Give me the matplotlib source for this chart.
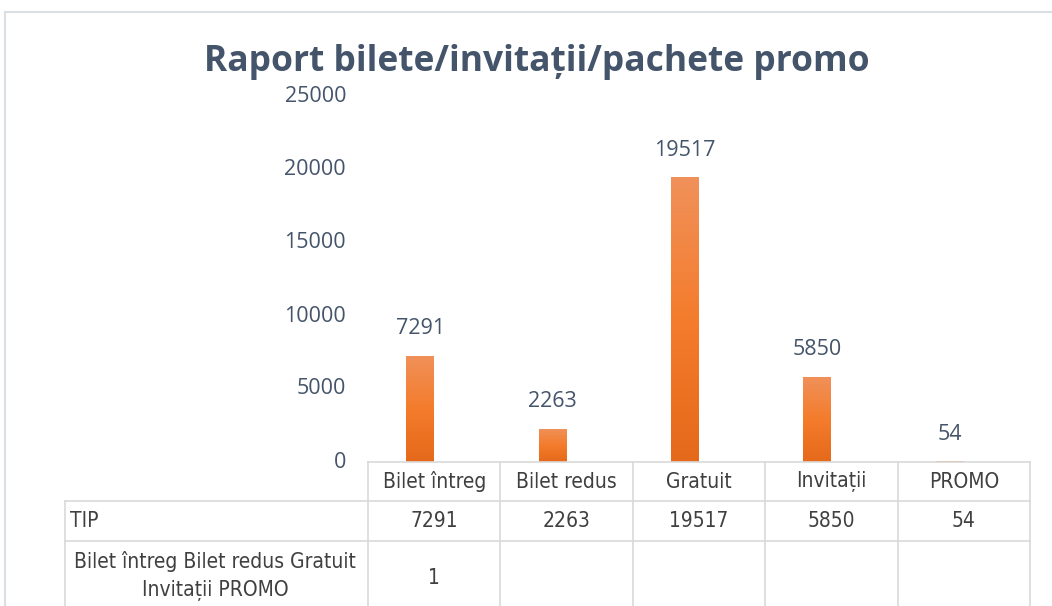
import numpy as np
import matplotlib
matplotlib.use('Agg')
import matplotlib.pyplot as plt
from matplotlib.colors import LinearSegmentedColormap

# date
categorii = ['Bilet întreg', 'Bilet redus', 'Gratuit', 'Invitații', 'PROMO']
serie_tip = [7291, 2263, 19517, 5850, 54]
serie_a_doua = [1, None, None, None, None]
nume_serii = ['TIP', 'Bilet întreg Bilet redus Gratuit\nInvitații PROMO']
titlu = 'Raport bilete/invitații/pachete promo'
y_ticks = [0, 5000, 10000, 15000, 20000, 25000]

W, H = 1052, 606
fig = plt.figure(figsize=(W / 100, H / 100), dpi=100)

# zona graficului (pixeli -> fractii)
x0, x1 = 368, 1030
y_top, y_zero = 97, 462
ax = fig.add_axes([x0 / W, 1 - y_zero / H, (x1 - x0) / W, (y_zero - y_top) / H])
ax.set_xlim(-0.5, len(categorii) - 0.5)
ax.set_ylim(0, 25000)
ax.axis('off')

text_col = '#44546A'
tab_col = '#404040'
line_col = '#D9D9D9'

w = 0.211
cmap = LinearSegmentedColormap.from_list('portocaliu', ['#E5691A', '#F47C2C', '#F0915A'])
grad = np.linspace(0, 1, 256).reshape(-1, 1)

x = np.arange(len(categorii))
bare = ax.bar(x - w / 2, serie_tip, width=w, color='#F07F2E', edgecolor='none')
for b, v in zip(bare, serie_tip):
    bx = b.get_x()
    im = ax.imshow(grad, cmap=cmap, origin='lower', aspect='auto',
                   extent=[bx, bx + b.get_width(), 0, v], zorder=2)
    im.set_clip_path(b)
    ax.text(bx + b.get_width() / 2, v + 1850, str(v), ha='center', va='center',
            fontsize=15.5, color=text_col, family='Open Sans')

vals2 = [v if v is not None else 0 for v in serie_a_doua]
ax.bar(x + w / 2, vals2, width=w, color='#A5A5A5', edgecolor='none')
ax.set_xlim(-0.5, len(categorii) - 0.5)
ax.set_ylim(0, 25000)

# etichete axa y
for t in y_ticks:
    ax.text(-0.5 - 22 / 132.4, t, str(t), ha='right', va='center',
            fontsize=15.5, color=text_col, family='Open Sans')

# titlu
fig.text(537 / W, 1 - 62 / H, titlu, ha='center', va='center', fontsize=25.5,
         fontweight='bold', color=text_col, family='Open Sans')

# chenar grafic
def hline(y, xa, xb, c=line_col, lw=1.2):
    fig.add_artist(plt.Line2D([xa / W, xb / W], [1 - y / H, 1 - y / H], color=c, lw=lw))

def vline(xp, ya, yb, c=line_col, lw=1.2):
    fig.add_artist(plt.Line2D([xp / W, xp / W], [1 - ya / H, 1 - yb / H], color=c, lw=lw))

hline(12, 5, W, '#DADFE6', 1.5)
vline(5, 12, H, '#DADFE6', 1.5)

# tabel de date
col_edges = np.linspace(x0, x1, len(categorii) + 1)
tab_left = 65
r_head, r1, r2 = 462, 501, 541
hline(r_head, x0, x1)
hline(r1, tab_left, x1)
hline(r2, tab_left, x1)
vline(tab_left, r1, H)
for xe in col_edges:
    vline(xe, r_head, H)

fnt = dict(family=['DejaVu Sans'], fontstretch='condensed', color=tab_col, fontsize=15)
for i, c in enumerate(categorii):
    xc = (col_edges[i] + col_edges[i + 1]) / 2
    fig.text(xc / W, 1 - (r_head + r1) / 2 / H, c, ha='center', va='center', **fnt)
    fig.text(xc / W, 1 - (r1 + r2) / 2 / H, str(serie_tip[i]), ha='center', va='center', **fnt)
    if serie_a_doua[i] is not None:
        fig.text(xc / W, 1 - 578 / H, str(serie_a_doua[i]), ha='center', va='center', **fnt)

fig.text(70 / W, 1 - (r1 + r2) / 2 / H, nume_serii[0], ha='left', va='center', **fnt)
fig.text(215 / W, 1 - 576 / H, nume_serii[1], ha='center', va='center',
         linespacing=1.5, **fnt)

fig.savefig('out.png', dpi=100)
